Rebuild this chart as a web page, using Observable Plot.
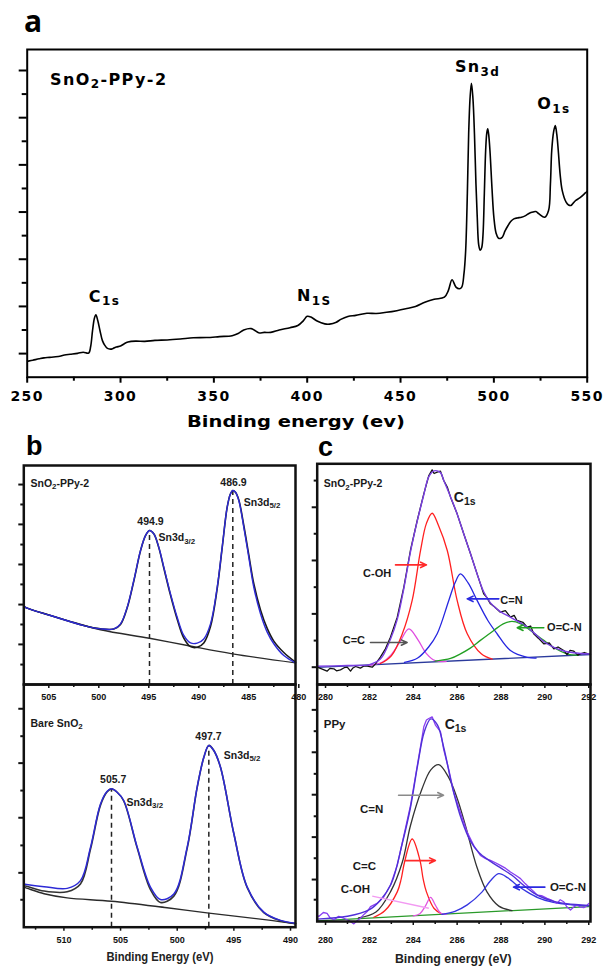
<!DOCTYPE html>
<html><head><meta charset="utf-8">
<script src="https://cdn.jsdelivr.net/npm/d3@7"></script>
<script src="https://cdn.jsdelivr.net/npm/@observablehq/plot@0.6"></script>
<style>
html,body{margin:0;padding:0;background:#fff;}
#fig{position:relative;width:607px;height:969px;overflow:hidden;background:#fff;}
</style></head><body><div id="fig"></div>
<script>
// ---------------- Panel a: survey spectrum (binding energy eV, intensity a.u.) ----------------
const aSurvey = [
[250.6,-0.32],[253,-0.28],[256.4,-0.22],[259,-0.18],[262,-0.16],[266.7,-0.12],[270,-0.06],[273,-0.03],[277,0.01],[280,0.06],[282.9,0.02],[284,0.3],[285,0.97],[286,1.5],[286.8,1.65],[287.8,1.4],[289,0.97],[290.3,0.55],[291.6,0.35],[293,0.22],[294.7,0.19],[296,0.22],[297.8,0.28],[300,0.32],[302,0.42],[304,0.49],[308,0.53],[313,0.52],[318.4,0.56],[325,0.58],[332,0.62],[339,0.67],[346,0.68],[353,0.72],[359.8,0.76],[363,0.85],[366,1.0],[370,1.06],[372,0.98],[374,0.88],[377,0.9],[380.5,0.9],[385,1.0],[390.8,1.1],[395,1.19],[398,1.4],[400,1.58],[402,1.55],[405.3,1.38],[409.4,1.26],[412,1.25],[415.6,1.33],[418,1.45],[421.8,1.57],[426,1.62],[432,1.71],[437,1.7],[442.5,1.75],[448,1.82],[452.8,1.9],[458,2.0],[463,2.18],[468,2.3],[473.5,2.39],[475.6,2.67],[477.6,3.13],[479.7,2.82],[481.5,2.75],[482.8,2.82],[484,3.4],[484.9,4.38],[485.8,6.8],[486.5,9.32],[487.3,10.9],[488,11.46],[488.8,10.8],[489.6,9.32],[490.4,7.2],[491.1,5.78],[491.9,4.6],[492.7,4.38],[493.5,4.5],[494.2,5.07],[494.9,6.8],[495.6,8.61],[496.2,9.35],[496.7,9.53],[497.2,9.3],[497.9,8.61],[499,7.0],[500,5.78],[501.2,5.1],[502.4,4.9],[503.5,4.88],[504.5,4.93],[506,5.2],[507.6,5.43],[509,5.6],[510.7,5.71],[512.5,5.75],[514.8,5.78],[517,5.85],[519,5.95],[521,6.0],[522.5,6.02],[524.2,5.92],[527.2,5.78],[529.3,6.07],[530.3,7.2],[531,8.61],[532,9.4],[532.9,9.67],[533.7,9.3],[534.5,8.61],[535.5,7.6],[536.6,6.92],[538.7,6.42],[540,6.3],[541.3,6.28],[542.5,6.38],[543.8,6.49],[546,6.6],[549,6.81],[550,6.88]
];
const aXMajor = [250,300,350,400,450,500,550];
const aXMinor = [275,325,375,425,475,525];
const aYMajor = [0,2,4,6,8,10,12];
const aYMinor = [1,3,5,7,9,11];
const aLabelText = ["SnO_{2}-PPy-2","Sn_{3d}","O_{1s}","C_{1s}","N_{1S}"];
const aLabelE = [262.2, 491.3, 532.2, 291.4, 403.8];
const aLabelU = [11.61, 12.14, 10.58, 2.41, 2.43];

// ---------------- Panel b (top): SnO2-PPy-2 Sn3d ----------------
const bTopEnvelope = [[507.5,35.8],[507.23,35.0],[504.83,31.5],[501.5,26.9],[499.83,25.4],[498.5,25.4],[497.83,27.7],[497.16,35.3],[496.5,47.5],[495.83,61.2],[495.33,68.0],[494.93,70.3],[494.5,68.8],[494.0,62.7],[493.5,53.6],[492.83,41.4],[492.16,30.7],[491.5,22.4],[490.83,19.0],[490.16,18.9],[489.5,20.8],[488.83,27.7],[488.16,44.4],[487.66,62.7],[487.16,81.0],[486.83,87.1],[486.6,88.6],[486.33,87.8],[486.0,84.0],[485.5,71.8],[485.0,58.1],[484.5,44.4],[483.83,32.3],[483.16,23.9],[482.5,18.6],[481.5,13.2],[480.33,9.9]];
const bTopFit = [[507.5,35.8],[507.23,35.0],[504.83,31.5],[501.5,26.9],[499.83,25.4],[498.5,25.3],[497.83,27.4],[497.16,35.0],[496.5,47.2],[495.83,61.0],[495.33,68.0],[494.93,70.3],[494.5,68.8],[494.0,62.5],[493.5,53.2],[492.83,40.8],[492.16,29.8],[491.5,21.2],[490.83,17.3],[490.16,17.0],[489.5,19.0],[488.83,26.5],[488.16,43.8],[487.66,62.5],[487.16,81.0],[486.83,87.1],[486.6,88.6],[486.33,87.8],[486.0,84.3],[485.5,72.6],[485.0,59.2],[484.5,46.0],[483.83,34.0],[483.16,25.6],[482.5,19.8],[481.5,14.6],[480.33,10.2]];
const bTopBackground = [[507.5,35.6],[507.23,35.0],[503.13,29.2],[499.83,25.0],[494.93,21.1],[491.13,17.8],[486.63,14.0],[480.33,9.9]];
const bTopPeakE = [494.93, 486.6];
const bTopPeakI = [70.3, 88.6];
const bTopLabelText = ["SnO_{2}-PPy-2","494.9","486.9","Sn3d_{3/2}","Sn3d_{5/2}"];
const bTopLabelE = [506.83, 494.83, 486.53, 494.03, 485.5];
const bTopLabelI = [91.8, 74.6, 92.4, 67.0, 83.2];
const bTopXMajor = [505,500,495,490,485,480];
const bTopXMinor = [502.5,497.5,492.5,487.5,482.5];
const bTopYMajor = [91.3,73.1,54.8,36.5,18.3];
const bTopYMinor = [82.2,63.9,45.7,27.4,9.1];

// ---------------- Panel b (bottom): bare SnO2 Sn3d ----------------
const bBotEnvelope = [[513.54,17.8],[513.3,17.6],[511.75,16.7],[509.71,16.0],[508.54,19.2],[507.65,33.0],[506.77,50.8],[506.18,56.0],[505.8,57.0],[505.3,55.6],[504.72,52.2],[503.53,33.0],[502.36,16.5],[501.48,11.4],[500.3,13.7],[499.12,33.0],[498.24,57.7],[497.65,70.0],[497.21,74.9],[496.77,72.8],[496.18,65.9],[495.0,38.5],[493.82,16.5],[492.36,6.2],[490.88,2.8],[489.56,1.6]];
const bBotFit = [[513.54,17.1],[513.3,16.9],[511.75,14.9],[509.71,14.6],[508.54,17.8],[507.65,32.2],[506.77,50.3],[506.18,55.8],[505.8,57.0],[505.3,55.6],[504.72,52.0],[503.53,32.6],[502.36,15.5],[501.48,10.2],[500.3,12.8],[499.12,32.5],[498.24,57.5],[497.65,70.0],[497.21,74.9],[496.77,72.8],[496.18,65.9],[495.0,38.5],[493.82,16.3],[492.36,6.0],[490.88,2.7],[489.56,1.5]];
const bBotBackground = [[513.54,16.4],[513.3,16.1],[511.75,13.8],[509.71,12.1],[505.8,10.7],[500.9,8.0],[497.2,5.8],[492.1,3.0],[489.56,1.4]];
const bBotPeakE = [505.8, 497.21];
const bBotPeakI = [57.0, 74.9];
const bBotLabelText = ["Bare SnO_{2}","505.7","497.7","Sn3d_{3/2}","Sn3d_{5/2}"];
const bBotLabelE = [512.95, 505.65, 497.24, 504.48, 495.89];
const bBotLabelI = [84.0, 60.7, 78.6, 51.5, 70.7];
const bBotXMajor = [510,505,500,495,490];
const bBotXMinor = [512.5,507.5,502.5,497.5,492.5];
const bBotYMajor = [90.0,67.6,45.1,22.4];
const bBotYMinor = [78.7,56.3,33.7,11.3];

// ---------------- Panel c (top): SnO2-PPy-2 C1s ----------------
const cTopRaw = [[279.62,7.85],[279.85,7.0],[280.07,6.04],[280.2,7.3],[280.38,7.1],[280.5,6.2],[280.68,6.65],[280.85,7.6],[280.99,7.85],[281.14,6.04],[281.25,7.5],[281.37,8.16],[281.59,7.4],[281.75,8.4],[281.9,8.31],[282.13,7.85],[282.28,9.36],[282.5,12.38],[282.73,16.16],[282.96,21.45],[283.27,30.51],[283.57,44.1],[283.87,60.72],[284.18,74.31],[284.48,86.39],[284.71,94.7],[284.86,97.27],[284.95,95.6],[285.09,96.21],[285.24,96.66],[285.39,92.43],[285.55,89.5],[285.7,84.88],[286.0,77.33],[286.3,68.27],[286.61,59.21],[286.91,50.14],[287.21,41.08],[287.35,39.5],[287.52,36.55],[287.7,35.2],[287.97,32.77],[288.2,33.5],[288.43,30.51],[288.6,31.3],[288.73,29.0],[289.0,28.2],[289.19,25.98],[289.35,26.5],[289.49,22.96],[289.7,21.0],[289.95,18.43],[290.2,18.8],[290.41,16.16],[290.6,17.0],[290.86,15.41],[291.01,13.59],[291.15,15.5],[291.32,15.1],[291.5,13.3],[291.62,13.9],[291.8,14.5],[292.08,13.59]];
const cTopEnvelope = [[279.62,8.3],[281.0,8.6],[282.0,9.0],[282.5,11.5],[282.96,20.5],[283.27,29.5],[283.57,43.5],[283.87,60.0],[284.18,74.0],[284.48,86.0],[284.71,94.2],[284.95,96.8],[285.24,96.0],[285.39,92.4],[285.7,85.0],[286.0,77.3],[286.3,68.3],[286.61,59.2],[286.91,50.1],[287.21,42.0],[287.52,37.0],[287.97,33.0],[288.43,30.5],[288.73,28.8],[289.19,26.0],[289.49,23.5],[289.95,19.5],[290.41,16.8],[290.86,15.2],[291.32,14.4],[292.08,13.8]];
const cTopBaseline = [[279.62,7.8],[292.08,13.6]];
const cTopCC = [[282.0,8.7],[282.6,10.2],[283.0,13.5],[283.4,19.5],[283.8,25.2],[284.2,20.5],[284.6,14.0],[285.0,10.8],[285.5,10.4]];
const cTopCOH = [[282.5,9.5],[283.0,13.0],[283.5,23.0],[283.95,38.1],[284.33,60.7],[284.6,73.0],[284.86,77.6],[285.15,72.0],[285.55,60.7],[286.0,38.1],[286.46,23.0],[287.1,13.9],[287.6,11.5]];
const cTopCN = [[283.6,10.0],[284.2,12.0],[284.7,17.0],[285.09,23.0],[285.62,38.1],[285.9,46.0],[286.15,50.1],[286.5,46.0],[286.91,38.1],[287.4,29.0],[287.82,23.0],[288.43,15.4],[289.2,12.3],[289.6,12.0]];
const cTopOCN = [[285.0,10.6],[285.7,11.8],[286.15,13.9],[286.6,16.5],[287.06,20.0],[287.67,24.5],[288.1,27.5],[288.5,28.6],[288.9,27.5],[289.34,24.5],[289.95,20.0],[290.5,16.2],[291.0,13.9],[291.5,13.2]];
const cTopLabelText = ["SnO_{2}-PPy-2","C_{1s}","C-OH","C=N","O=C-N","C=C"];
const cTopLabelE = [279.92, 285.85, 282.35, 287.97, 290.1, 281.8];
const cTopLabelI = [90.9, 84.9, 50.4, 38.1, 26.0, 19.9];
const cTopArrowFrom = [283.19, 287.9, 289.95, 282.05];
const cTopArrowTo = [284.6, 286.46, 288.74, 283.72];
const cTopArrowI = [54.2, 38.8, 25.7, 19.0];

// ---------------- Panel c (bottom): PPy C1s ----------------
const cBotRaw = [[279.62,2.77],[279.69,2.08],[279.9,3.8],[280.07,3.47],[280.2,1.6],[280.38,0.68],[280.6,2.2],[280.83,1.38],[281.05,0.5],[281.29,-1.0],[281.45,0.4],[281.59,1.38],[281.75,3.0],[281.9,4.17],[282.05,6.26],[282.35,7.65],[282.66,10.43],[282.96,15.31],[283.27,23.67],[283.57,36.2],[283.87,48.74],[284.1,61.28],[284.33,73.81],[284.48,82.17],[284.6,85.0],[284.71,85.66],[284.86,86.35],[285.01,82.87],[285.24,80.08],[285.39,72.42],[285.62,64.06],[285.85,54.31],[286.15,45.96],[286.46,37.6],[286.76,32.02],[287.06,27.85],[287.3,26.5],[287.52,25.76],[287.75,24.8],[287.97,23.67],[288.2,22.5],[288.43,20.88],[288.65,19.6],[288.89,18.09],[289.1,16.0],[289.34,13.92],[289.5,12.6],[289.65,11.13],[289.85,10.9],[290.1,9.74],[290.3,9.0],[290.56,7.65],[290.7,9.2],[290.86,8.35],[291.0,6.2],[291.17,4.86],[291.3,6.0],[291.47,6.95],[291.6,6.2],[291.77,5.84],[291.9,6.6],[292.0,7.65]];
const cBotFit = [[279.62,1.0],[281.0,2.2],[282.0,5.0],[282.5,9.0],[283.0,16.0],[283.5,33.0],[283.87,48.0],[284.2,66.0],[284.5,80.0],[284.8,85.5],[285.1,83.0],[285.4,73.0],[285.8,56.0],[286.2,43.0],[286.6,34.0],[287.0,29.0],[287.5,25.5],[288.0,22.5],[288.5,19.5],[289.0,15.5],[289.5,12.0],[290.0,9.7],[290.5,8.3],[291.0,7.5],[292.0,6.8]];
const cBotBaseline = [[279.62,0.3],[292.0,6.3]];
const cBotCN = [[281.5,1.5],[282.3,4.0],[282.96,12.5],[283.5,25.0],[283.87,40.4],[284.4,56.0],[284.8,64.0],[285.16,66.15],[285.6,61.0],[286.0,52.0],[286.38,40.4],[286.9,23.0],[287.36,12.5],[287.9,6.5],[288.5,4.6]];
const cBotCC = [[282.2,1.8],[282.7,4.5],[283.27,12.5],[283.45,18.0],[283.6,25.0],[283.95,34.8],[284.3,26.0],[284.45,18.0],[284.6,12.5],[284.95,5.5],[285.3,3.2]];
const cBotCOH = [[284.0,2.4],[284.3,3.3],[284.55,6.5],[284.79,10.2],[285.0,7.0],[285.25,3.5],[285.5,3.0]];
const cBotOCN = [[285.3,3.0],[285.9,4.3],[286.46,7.0],[287.14,12.5],[287.5,17.0],[287.89,20.2],[288.3,18.5],[288.7,15.5],[289.19,12.5],[289.7,10.0],[290.25,8.35],[290.9,7.3],[291.5,6.8],[292.0,6.6]];
const cBotLabelText = ["PPy","C_{1s}","C=N","C=C","C-OH","O=C-N"];
const cBotLabelE = [279.92, 285.43, 282.1, 281.77, 281.36, 290.23];
const cBotLabelI = [83.4, 83.0, 47.2, 23.3, 13.5, 14.5];
const cBotArrowFrom = [283.33, 283.64, 290.0];
const cBotArrowTo = [285.38, 285.01, 288.57];
const cBotArrowI = [53.3, 25.7, 14.5];
const cBotLeader = [[282.13,10.7],[284.71,5.56]];

const cXMajor = [280,282,284,286,288,290,292];
const cXMinor = [281,283,285,287,289,291];
const cTopYMajor = [80.3,56.2,32.0,7.84];
const cTopYMinor = [92.4,68.3,44.1,19.9];
const cBotYMajor = [89.3,71.4,53.5,35.6,17.7];
const cBotYMinor = [80.3,62.3,44.4,26.7,9.2];

// ---------------- helpers ----------------
const fig = document.getElementById("fig");
const NS = "http://www.w3.org/2000/svg";
const arial = "'Liberation Sans', Arial, sans-serif";
const blank = () => "";
const line = (data, opts) => Plot.line(data, {x: d => d[0], y: d => d[1], curve: "catmull-rom", ...opts});
const lbl = (T, X, Y, idx, opts) => Plot.text([{t: T[idx], x: X[idx], y: Y[idx]}], {x: "x", y: "y", text: "t", fontWeight: "bold", fill: "#1a1a1a", lineAnchor: "middle", ...opts});
const arrows = (F, T, Y, idx, color) => Plot.arrow([{x1: F[idx], x2: T[idx], y: Y[idx]}], {x1: "x1", x2: "x2", y1: "y", y2: "y", stroke: color, strokeWidth: 1.6, headLength: 6, headAngle: 50});
const tickX = (ticks, size, sw) => Plot.axisX({ticks, anchor: "bottom", tickSize: size, tickFormat: blank, strokeWidth: sw, label: null});
const tickY = (ticks, size, sw) => Plot.axisY({ticks, anchor: "left", tickSize: size, tickFormat: blank, strokeWidth: sw, label: null});

function subs(svg) {
  svg.querySelectorAll("text").forEach(t => {
    const s = t.textContent;
    if (!s.includes("_{")) return;
    const parts = s.split(/_\{([^}]*)\}/);
    t.textContent = "";
    let wasSub = false;
    parts.forEach((p, i) => {
      if (!p) return;
      const ts = document.createElementNS(NS, "tspan");
      ts.textContent = p;
      if (i % 2) { ts.setAttribute("style", "font-size:75%"); ts.setAttribute("dy", "0.3em"); wasSub = true; }
      else if (wasSub) { ts.setAttribute("dy", "-0.225em"); wasSub = false; }
      t.appendChild(ts);
    });
  });
}
function place(svg, left, top) {
  svg.style.position = "absolute";
  svg.style.left = left + "px";
  svg.style.top = top + "px";
  subs(svg);
  fig.appendChild(svg);
}
function panel(o) {
  return Plot.plot({
    width: o.width, height: o.height, marginTop: o.mt, marginBottom: o.mb, marginLeft: o.ml, marginRight: o.mr,
    style: {background: "transparent", overflow: "visible", fontFamily: arial, color: "#111"},
    x: {domain: o.xDomain, axis: null}, y: {domain: [0, 100], axis: null},
    marks: [
      ...o.marks,
      Plot.frame({stroke: "#111", strokeWidth: 2.5}),
      Plot.axisX({ticks: o.xMajor, anchor: "bottom", tickSize: 4, tickPadding: o.tickPad, fontSize: 9, fontWeight: "bold", strokeWidth: 1.5, label: null}),
      tickX(o.xMinor, 3, 1.5),
      tickY(o.yMajor, 5, 2),
      tickY(o.yMinor, 3, 2)
    ]
  });
}

// ---------------- Panel a ----------------
const aLabels = aLabelText.map((t, i) => ({t, x: aLabelE[i], y: aLabelU[i]}));
const A = Plot.plot({
  width: 607, height: 410, marginTop: 49, marginBottom: 33.3, marginLeft: 26.7, marginRight: 20.3,
  style: {background: "transparent", overflow: "visible", fontFamily: "'DejaVu Sans', sans-serif", color: "#000"},
  x: {domain: [250, 550], axis: null}, y: {domain: [-1, 12.89], axis: null},
  marks: [
    line(aSurvey, {stroke: "#000", strokeWidth: 1.6}),
    Plot.text([aLabels[0]], {x: "x", y: "y", text: "t", textAnchor: "start", fontSize: 16, fontWeight: "bold"}),
    Plot.text(aLabels.slice(1), {x: "x", y: "y", text: "t", textAnchor: "middle", fontSize: 16, fontWeight: "bold"}),
    Plot.frame({stroke: "#000", strokeWidth: 2}),
    Plot.axisX({ticks: aXMajor, anchor: "bottom", tickSize: 6, tickPadding: 7.5, fontSize: 14, fontWeight: "bold", strokeWidth: 2, label: null}),
    tickX(aXMinor, 4, 2),
    tickY(aYMajor, 8, 2),
    tickY(aYMinor, 5, 2)
  ]
});
A.querySelectorAll("text").forEach(t => t.style.letterSpacing = "1.4px");
place(A, 0, 0);

// ---------------- Panel b top ----------------
const B1 = panel({
  width: 310, height: 270, mt: 25, mb: 26, ml: 23.3, mr: 15, xDomain: [507.5, 480.33],
  xMajor: bTopXMajor, xMinor: bTopXMinor, yMajor: bTopYMajor, yMinor: bTopYMinor, tickPad: 4.8,
  marks: [
    Plot.ruleX(bTopPeakE.map((e, i) => ({e, p: bTopPeakI[i]})), {x: "e", y1: 0, y2: "p", stroke: "#222", strokeWidth: 1.5, strokeDasharray: "5,4"}),
    line(bTopBackground, {stroke: "#2a2a2a", strokeWidth: 1.4}),
    line(bTopFit, {stroke: "#1a1a1a", strokeWidth: 1.6}),
    line(bTopEnvelope, {stroke: "#2d2ad6", strokeWidth: 1.4}),
    lbl(bTopLabelText, bTopLabelE, bTopLabelI, 0, {textAnchor: "start", fontSize: 10.5}),
    lbl(bTopLabelText, bTopLabelE, bTopLabelI, 1, {textAnchor: "middle", fontSize: 10.5}),
    lbl(bTopLabelText, bTopLabelE, bTopLabelI, 2, {textAnchor: "middle", fontSize: 10.5}),
    lbl(bTopLabelText, bTopLabelE, bTopLabelI, 3, {textAnchor: "start", fontSize: 10.5}),
    lbl(bTopLabelText, bTopLabelE, bTopLabelI, 4, {textAnchor: "start", fontSize: 10.5})
  ]
});
place(B1, 0, 440);

// ---------------- Panel b bottom ----------------
const B2 = panel({
  width: 310, height: 290, mt: 24, mb: 23.3, ml: 23.3, mr: 15, xDomain: [513.54, 489.56],
  xMajor: bBotXMajor, xMinor: bBotXMinor, yMajor: bBotYMajor, yMinor: bBotYMinor, tickPad: 5,
  marks: [
    Plot.ruleX(bBotPeakE.map((e, i) => ({e, p: bBotPeakI[i]})), {x: "e", y1: 0, y2: "p", stroke: "#222", strokeWidth: 1.5, strokeDasharray: "5,4"}),
    line(bBotBackground, {stroke: "#2a2a2a", strokeWidth: 1.4}),
    line(bBotFit, {stroke: "#333", strokeWidth: 1.6}),
    line(bBotEnvelope, {stroke: "#2d2ad6", strokeWidth: 1.5}),
    lbl(bBotLabelText, bBotLabelE, bBotLabelI, 0, {textAnchor: "start", fontSize: 10.5}),
    lbl(bBotLabelText, bBotLabelE, bBotLabelI, 1, {textAnchor: "middle", fontSize: 10.5}),
    lbl(bBotLabelText, bBotLabelE, bBotLabelI, 2, {textAnchor: "middle", fontSize: 10.5}),
    lbl(bBotLabelText, bBotLabelE, bBotLabelI, 3, {textAnchor: "start", fontSize: 10.5}),
    lbl(bBotLabelText, bBotLabelE, bBotLabelI, 4, {textAnchor: "start", fontSize: 10.5})
  ]
});
place(B2, 0, 660);

// ---------------- Panel c top ----------------
const C1 = panel({
  width: 307, height: 270, mt: 23.3, mb: 26, ml: 16.7, mr: 17, xDomain: [279.62, 292.08],
  xMajor: cXMajor, xMinor: cXMinor, yMajor: cTopYMajor, yMinor: cTopYMinor, tickPad: 4.8,
  marks: [
    line(cTopBaseline, {stroke: "#2b3a9c", strokeWidth: 1.3, curve: "linear"}),
    line(cTopCC, {stroke: "#e04be0", strokeWidth: 1.3}),
    line(cTopCOH, {stroke: "#ff2020", strokeWidth: 1.3}),
    line(cTopCN, {stroke: "#2626e0", strokeWidth: 1.3}),
    line(cTopOCN, {stroke: "#22a022", strokeWidth: 1.3}),
    line(cTopRaw, {stroke: "#111", strokeWidth: 1.3, curve: "linear"}),
    line(cTopEnvelope, {stroke: "#7b3fe4", strokeWidth: 1.4}),
    arrows(cTopArrowFrom, cTopArrowTo, cTopArrowI, 0, "#ff2a2a"),
    arrows(cTopArrowFrom, cTopArrowTo, cTopArrowI, 1, "#2a2ae0"),
    arrows(cTopArrowFrom, cTopArrowTo, cTopArrowI, 2, "#22a022"),
    arrows(cTopArrowFrom, cTopArrowTo, cTopArrowI, 3, "#555"),
    lbl(cTopLabelText, cTopLabelE, cTopLabelI, 0, {textAnchor: "start", fontSize: 10.5}),
    lbl(cTopLabelText, cTopLabelE, cTopLabelI, 1, {textAnchor: "start", fontSize: 14}),
    lbl(cTopLabelText, cTopLabelE, cTopLabelI, 2, {textAnchor: "middle", fontSize: 11}),
    lbl(cTopLabelText, cTopLabelE, cTopLabelI, 3, {textAnchor: "start", fontSize: 11}),
    lbl(cTopLabelText, cTopLabelE, cTopLabelI, 4, {textAnchor: "start", fontSize: 11}),
    lbl(cTopLabelText, cTopLabelE, cTopLabelI, 5, {textAnchor: "end", fontSize: 11})
  ]
});
place(C1, 300, 440);

// ---------------- Panel c bottom ----------------
const C2 = panel({
  width: 307, height: 290, mt: 24, mb: 29, ml: 16.7, mr: 17, xDomain: [279.62, 292.08],
  xMajor: cXMajor, xMinor: cXMinor, yMajor: cBotYMajor, yMinor: cBotYMinor, tickPad: 11,
  marks: [
    line(cBotBaseline, {stroke: "#2a9a2a", strokeWidth: 1.3, curve: "linear"}),
    line(cBotCN, {stroke: "#333", strokeWidth: 1.3}),
    line(cBotCC, {stroke: "#ff2020", strokeWidth: 1.3}),
    line(cBotCOH, {stroke: "#e055e0", strokeWidth: 1.3}),
    line(cBotOCN, {stroke: "#3535e0", strokeWidth: 1.3}),
    line(cBotRaw, {stroke: "#8a3ff2", strokeWidth: 1.3, curve: "linear"}),
    line(cBotFit, {stroke: "#5030d8", strokeWidth: 1.4}),
    Plot.link([{x1: cBotLeader[0][0], y1: cBotLeader[0][1], x2: cBotLeader[1][0], y2: cBotLeader[1][1]}], {x1: "x1", y1: "y1", x2: "x2", y2: "y2", stroke: "#f29af2", strokeWidth: 1.5}),
    arrows(cBotArrowFrom, cBotArrowTo, cBotArrowI, 0, "#8a8a8a"),
    arrows(cBotArrowFrom, cBotArrowTo, cBotArrowI, 1, "#ff2a2a"),
    arrows(cBotArrowFrom, cBotArrowTo, cBotArrowI, 2, "#2a2ae0"),
    lbl(cBotLabelText, cBotLabelE, cBotLabelI, 0, {textAnchor: "start", fontSize: 11.5}),
    lbl(cBotLabelText, cBotLabelE, cBotLabelI, 1, {textAnchor: "start", fontSize: 14}),
    lbl(cBotLabelText, cBotLabelE, cBotLabelI, 2, {textAnchor: "middle", fontSize: 11.5}),
    lbl(cBotLabelText, cBotLabelE, cBotLabelI, 3, {textAnchor: "middle", fontSize: 11.5}),
    lbl(cBotLabelText, cBotLabelE, cBotLabelI, 4, {textAnchor: "middle", fontSize: 11.5}),
    lbl(cBotLabelText, cBotLabelE, cBotLabelI, 5, {textAnchor: "start", fontSize: 11.5})
  ]
});
place(C2, 300, 660);

// ---------------- Overlay: panel letters and axis titles ----------------
const ov = d3.select(fig).append("svg").attr("width", 607).attr("height", 969)
  .style("position", "absolute").style("left", "0px").style("top", "0px");
ov.append("text").attr("x", 24).attr("y", 32).text("a")
  .attr("font-family", "'Open Sans', sans-serif").attr("font-weight", "bold").attr("font-size", 30);
const letters = [["b", 26, 455], ["c", 318, 456]];
ov.selectAll("text.letter").data(letters).join("text").attr("class", "letter")
  .attr("x", d => d[1]).attr("y", d => d[2]).text(d => d[0])
  .attr("font-family", arial).attr("font-weight", "bold").attr("font-size", 27).attr("fill", "#000");
ov.append("text").attr("x", 296).attr("y", 427).attr("text-anchor", "middle")
  .attr("font-family", "'DejaVu Sans', sans-serif").attr("font-weight", "bold").attr("font-size", 16.5)
  .attr("textLength", 218).attr("lengthAdjust", "spacingAndGlyphs").text("Binding energy (ev)");
ov.append("text").attr("x", 160).attr("y", 961).attr("text-anchor", "middle")
  .attr("font-family", arial).attr("font-weight", "bold").attr("font-size", 12).attr("fill", "#222")
  .attr("textLength", 107).attr("lengthAdjust", "spacingAndGlyphs").text("Binding Energy (eV)");
ov.append("text").attr("x", 453.3).attr("y", 963).attr("text-anchor", "middle")
  .attr("font-family", arial).attr("font-weight", "bold").attr("font-size", 12.5).attr("fill", "#222")
  .attr("textLength", 116.7).attr("lengthAdjust", "spacingAndGlyphs").text("Binding energy (eV)");
</script></body></html>
